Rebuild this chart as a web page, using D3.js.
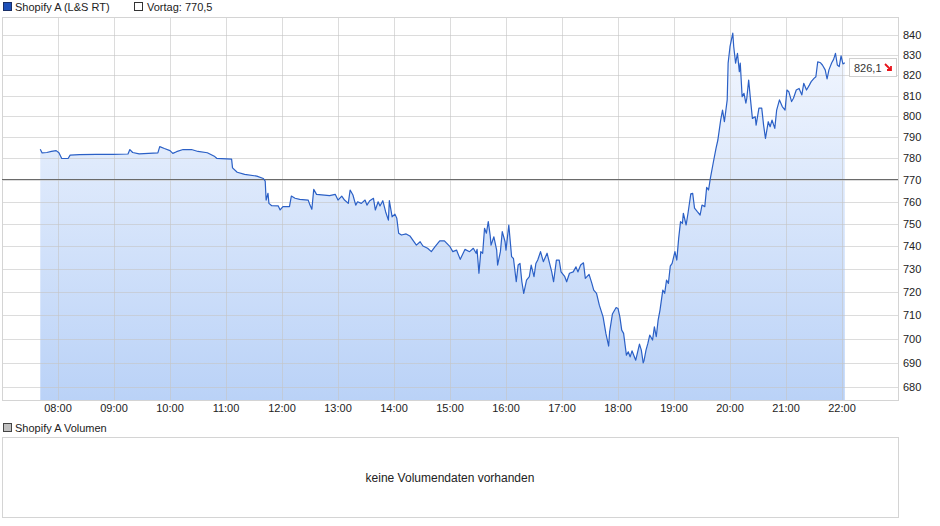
<!DOCTYPE html>
<html>
<head>
<meta charset="utf-8">
<script src="https://cdnjs.cloudflare.com/ajax/libs/d3/7.8.5/d3.min.js"></script>
<style>
body { margin: 0; background: #fff; }
svg text { font-family: "Liberation Sans", Arial, sans-serif; }
</style>
</head>
<body>
<svg id="svg1" width="940" height="526"></svg>
<script>
// intraday quotes (time, price)
var times = ["07:41","07:43","07:48","07:53","07:58","08:01","08:04","08:11","08:13","08:23",
	"08:41","08:59","09:15","09:17","09:20","09:27","09:47","09:49","09:54","10:00",
	"10:03","10:07","10:14","10:23","10:30","10:40","10:48","10:50","11:06","11:07",
	"11:12","11:20","11:33","11:40","11:42","11:43","11:45","11:46","11:49","11:56",
	"11:58","12:01","12:08","12:10","12:14","12:19","12:28","12:30","12:32","12:34",
	"12:37","12:51","12:57","13:00","13:04","13:07","13:11","13:13","13:16","13:19",
	"13:21","13:25","13:29","13:31","13:34","13:38","13:40","13:43","13:45","13:48",
	"13:51","13:54","13:55","13:58","14:01","14:03","14:05","14:08","14:13","14:17",
	"14:20","14:24","14:28","14:31","14:36","14:40","14:44","14:49","14:54","15:00",
	"15:03","15:07","15:11","15:16","15:21","15:25","15:28","15:29","15:31","15:33",
	"15:35","15:37","15:39","15:41","15:43","15:44","15:47","15:50","15:51","15:54",
	"15:56","15:59","16:00","16:03","16:06","16:08","16:11","16:13","16:15","16:17",
	"16:19","16:22","16:25","16:27","16:30","16:32","16:34","16:37","16:40","16:44",
	"16:49","16:51","16:54","16:57","16:59","17:03","17:05","17:08","17:12","17:15",
	"17:17","17:20","17:23","17:25","17:29","17:32","17:34","17:37","17:40","17:44",
	"17:47","17:50","17:51","17:54","17:58","18:00","18:02","18:04","18:06","18:09",
	"18:11","18:13","18:15","18:19","18:23","18:25","18:27","18:28","18:30","18:32",
	"18:34","18:37","18:39","18:41","18:43","18:45","18:48","18:50","18:52","18:54",
	"18:56","18:58","19:01","19:03","19:05","19:07","19:09","19:10","19:13","19:15",
	"19:18","19:20","19:22","19:25","19:28","19:30","19:33","19:35","19:37","19:39",
	"19:42","19:45","19:47","19:50","19:52","19:54","19:57","19:58","20:00","20:03",
	"20:04","20:06","20:08","20:10","20:11","20:13","20:15","20:17","20:18","20:20",
	"20:22","20:24","20:27","20:28","20:31","20:34","20:36","20:38","20:41","20:43",
	"20:45","20:48","20:50","20:53","20:56","20:59","21:01","21:03","21:06","21:08",
	"21:11","21:14","21:17","21:19","21:22","21:25","21:27","21:30","21:32","21:34",
	"21:37","21:39","21:42","21:44","21:46","21:49","21:51","21:53","21:55","21:57",
	"21:59","22:01","22:03"];
var prices = [784.3,782.6,782.8,783.3,783.7,782.7,780.0,780.1,781.6,781.8,
	781.9,781.9,782.1,784.2,782.8,782.2,782.6,785.6,784.7,783.7,
	782.4,783.2,784.2,784.2,783.3,782.7,780.9,780.1,779.7,775.6,
	773.6,772.6,771.8,770.7,769.5,760.8,763.9,759.3,758.2,758.1,
	756.3,757.8,757.8,762.6,761.6,761.1,760.8,758.5,756.6,765.7,
	763.4,762.8,763.4,760.8,762.6,760.8,759.3,765.4,763.1,758.5,
	760.0,759.3,760.8,758.5,760.5,761.6,756.3,760.0,758.1,760.5,
	755.5,751.7,760.5,753.2,754.4,752.5,745.8,745.0,745.5,744.6,
	742.8,740.5,742.0,740.1,739.1,737.6,739.8,742.4,742.4,739.8,
	737.6,738.3,734.2,738.6,737.6,739.1,736.9,738.6,728.1,737.6,
	736.9,748.0,745.8,751.0,745.0,740.5,744.2,738.3,731.7,737.6,
	746.5,742.0,738.3,749.5,735.4,734.6,724.4,731.7,732.4,724.4,
	719.4,725.1,726.6,731.7,726.6,732.4,733.9,737.6,733.2,736.9,
	728.7,724.4,733.9,733.9,728.7,726.6,724.4,728.1,728.7,730.9,
	728.7,731.7,732.7,725.9,727.6,723.7,720.8,719.4,714.3,709.3,
	702.3,697.0,702.9,710.5,713.3,712.9,709.3,703.7,702.3,693.2,
	694.6,692.5,695.0,691.1,697.8,695.3,690.0,691.1,695.3,698.1,
	701.6,699.5,705.1,700.9,707.9,712.2,720.8,719.4,725.1,723.7,
	731.2,732.4,737.6,733.9,743.5,751.0,750.2,754.8,749.5,754.8,
	763.6,763.9,757.1,755.5,754.0,758.5,757.8,766.6,765.4,770.9,
	777.9,784.8,788.7,798.2,803.0,797.4,807.9,825.9,834.1,840.9,
	834.1,825.9,830.8,821.7,825.9,809.5,811.1,806.3,808.7,817.6,
	807.9,799.0,799.8,795.8,803.9,803.9,795.8,789.5,797.4,795.0,
	798.2,794.2,803.0,807.9,804.7,803.0,812.7,811.9,807.1,808.7,
	812.7,813.5,810.3,816.0,812.7,815.1,816.8,818.4,819.2,826.6,
	826.1,825.0,822.6,818.1,822.6,826.1,827.8,830.8,825.0,824.2,
	829.5,825.5,826.1];
var prevClose = 770.5;
var lastPrice = "826,1";
var yTicks = [680,690,700,710,720,730,740,750,760,770,780,790,800,810,820,830,840];
var xTicks = ["08:00","09:00","10:00","11:00","12:00","13:00","14:00","15:00",
	"16:00","17:00","18:00","19:00","20:00","21:00","22:00"];

var parseTime = d3.timeParse("%Y-%m-%d %H:%M");
var day = "2021-02-05 ";

var data = times.map(function(t, i) {
	return { date: parseTime(day + t), value: prices[i] };
});

var svg = d3.select("#svg1");

var plot = {left: 2, right: 898, top: 17, bottom: 400};

var x = d3.scaleTime()
	.domain([parseTime(day + "07:00"), parseTime(day + "23:00")])
	.range([plot.left, plot.right]);

var y = d3.scaleLog()
	.domain([674.8, 849.1])
	.range([plot.bottom, plot.top]);

// gradient for the area
var grad = svg.append("defs").append("linearGradient")
	.attr("id", "areaGrad")
	.attr("gradientUnits", "userSpaceOnUse")
	.attr("x1", 0).attr("x2", 0)
	.attr("y1", plot.top).attr("y2", plot.bottom);
grad.append("stop").attr("offset", "0%").attr("stop-color", "#f6f9ff");
grad.append("stop").attr("offset", "100%").attr("stop-color", "#bad2f7");

var area = d3.area()
	.x(function(d) { return x(d.date); })
	.y0(plot.bottom)
	.y1(function(d) { return y(d.value); });

var line = d3.line()
	.x(function(d) { return x(d.date); })
	.y(function(d) { return y(d.value); });

svg.append("path")
	.datum(data)
	.attr("d", area)
	.attr("fill", "url(#areaGrad)");

// grid
svg.append("g")
	.selectAll("line")
	.data(yTicks)
	.enter().append("line")
	.attr("x1", plot.left).attr("x2", plot.right)
	.attr("y1", function(d) { return Math.round(y(d)) + 0.5; })
	.attr("y2", function(d) { return Math.round(y(d)) + 0.5; })
	.attr("stroke", "#c4c4c4")
	.attr("stroke-opacity", 0.6);

svg.append("g")
	.selectAll("line")
	.data(xTicks)
	.enter().append("line")
	.attr("x1", function(d) { return Math.round(x(parseTime(day + d))) + 0.5; })
	.attr("x2", function(d) { return Math.round(x(parseTime(day + d))) + 0.5; })
	.attr("y1", plot.top).attr("y2", plot.bottom)
	.attr("stroke", "#c4c4c4")
	.attr("stroke-opacity", 0.6);

// frame
svg.append("rect")
	.attr("x", plot.left + 0.5).attr("y", plot.top + 0.5)
	.attr("width", plot.right - plot.left).attr("height", plot.bottom - plot.top)
	.attr("fill", "none")
	.attr("stroke", "#d4d4d4");

// previous close
svg.append("line")
	.attr("x1", plot.left).attr("x2", plot.right)
	.attr("y1", Math.round(y(prevClose)) + 0.5)
	.attr("y2", Math.round(y(prevClose)) + 0.5)
	.attr("stroke", "#6a6a6a")
	.attr("stroke-width", 1.2);

svg.append("path")
	.datum(data)
	.attr("d", line)
	.attr("fill", "none")
	.attr("stroke", "#2b60c6")
	.attr("stroke-width", 1.2)
	.attr("stroke-linejoin", "round");

// axes labels
svg.append("g")
	.selectAll("text")
	.data(yTicks)
	.enter().append("text")
	.attr("x", 903)
	.attr("y", function(d) { return y(d); })
	.attr("dy", "0.36em")
	.style("font-size", "11px")
	.attr("fill", "#222")
	.text(function(d) { return d; });

svg.append("g")
	.selectAll("text")
	.data(xTicks)
	.enter().append("text")
	.attr("x", function(d) { return x(parseTime(day + d)); })
	.attr("y", 412)
	.attr("text-anchor", "middle")
	.style("font-size", "11px")
	.attr("fill", "#222")
	.text(function(d) { return d; });

// last price box
var lastY = y(prices[prices.length - 1]);
var box = svg.append("g").attr("transform", "translate(849," + (Math.round(lastY) - 5) + ")");
box.append("rect")
	.attr("x", 0.5).attr("y", 0.5)
	.attr("width", 47).attr("height", 18)
	.attr("fill", "#fff")
	.attr("stroke", "#d0d0d0");
box.append("text")
	.attr("x", 5).attr("y", 13.5)
	.style("font-size", "11px")
	.attr("fill", "#333")
	.text(lastPrice);
box.append("path")
	.attr("d", "M36,6 L42,12 M42,8 L42,12 L38,12")
	.attr("fill", "none")
	.attr("stroke", "#e8131b")
	.attr("stroke-width", 1.8);

// legend
var legend = svg.append("g");
legend.append("rect")
	.attr("x", 3.5).attr("y", 2.5).attr("width", 8).attr("height", 8)
	.attr("fill", "#1e50b8").attr("stroke", "#1a2f66");
legend.append("text")
	.attr("x", 15).attr("y", 10.5)
	.style("font-size", "11px").attr("fill", "#222")
	.text("Shopify A (L&S RT)");
legend.append("rect")
	.attr("x", 134.5).attr("y", 2.5).attr("width", 8).attr("height", 8)
	.attr("fill", "#fff").attr("stroke", "#333");
legend.append("text")
	.attr("x", 147).attr("y", 10.5)
	.style("font-size", "11px").attr("fill", "#222")
	.text("Vortag: " + String(prevClose).replace(".", ","));

// volume panel
svg.append("rect")
	.attr("x", 3.5).attr("y", 423.5).attr("width", 8).attr("height", 8)
	.attr("fill", "#c0c0c0").attr("stroke", "#444");
svg.append("text")
	.attr("x", 15).attr("y", 431.5)
	.style("font-size", "11px").attr("fill", "#222")
	.text("Shopify A Volumen");
svg.append("rect")
	.attr("x", plot.left + 0.5).attr("y", 437.5)
	.attr("width", plot.right - plot.left).attr("height", 80)
	.attr("fill", "none")
	.attr("stroke", "#d4d4d4");
svg.append("text")
	.attr("x", (plot.left + plot.right) / 2)
	.attr("y", 482)
	.attr("text-anchor", "middle")
	.style("font-size", "12px").attr("fill", "#222")
	.text("keine Volumendaten vorhanden");
</script>
</body>
</html>
